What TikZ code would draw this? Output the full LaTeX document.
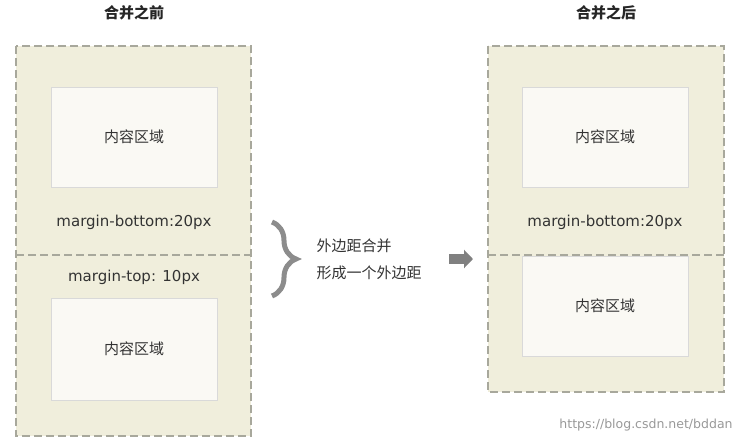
\documentclass[tikz,border=0pt]{standalone}
\usepackage{fontspec}
\setmainfont{DejaVu Sans}
\newfontfamily\cjk{Noto Sans CJK SC}
\usetikzlibrary{decorations.pathreplacing,arrows.meta}
\definecolor{outerfill}{HTML}{F0EEDC}
\definecolor{innerfill}{HTML}{FAF9F4}
\definecolor{dashcol}{HTML}{A8A89C}
\tikzset{
 outerbox/.style={draw=dashcol,fill=outerfill,dash pattern=on 8pt off 4pt,line width=1.3pt},
 innerbox/.style={draw=black!15,fill=innerfill,line width=1pt},
 divider/.style={draw=dashcol,dash pattern=on 8pt off 4pt,line width=1.3pt},
 cn/.style={font=\cjk\fontsize{15}{17}\selectfont,text=black!80},
 mg/.style={font=\fontsize{15}{17}\selectfont,text=black!80},
 title/.style={font=\cjk\bfseries\fontsize{15}{17}\selectfont,text=black!85},
}
\begin{document}
\begin{tikzpicture}[x=1pt,y=-1pt]
\useasboundingbox[fill=white] (0,0) rectangle (745,445);
% left
\node[title] (t1) at (134,13) {合并之前};
\path[outerbox] (16,46) rectangle (251,436);
\draw[divider] (16,255) -- (251,255);
\node[innerbox,minimum width=166pt,minimum height=100pt,cn] (a1) at (134,137) {内容区域};
\node[mg] (mb1) at (134,222) {margin-bottom:20px};
\node[mg] (mt1) at (134,277) {margin-top: 10px};
\node[innerbox,minimum width=166pt,minimum height=102pt,cn] (a2) at (134,349) {内容区域};
% middle
\coordinate (b1) at (272,222);
\coordinate (b2) at (272,296);
\draw[decorate,decoration={brace,amplitude=24pt,aspect=0.5},line width=5pt,draw=black!45] (b1) -- (b2);
\node[cn,anchor=west] (m1) at (313,246) {外边距合并};
\node[cn,anchor=west] (m2) at (313,273) {形成一个外边距};
\coordinate (ar1) at (449,259);
\coordinate (ar2) at (473,259);
\draw[-{Triangle[length=9pt,width=18pt]},line width=10pt,draw=black!50] (ar1) -- (ar2);
% right
\node[title] (t2) at (606,13) {合并之后};
\path[outerbox] (488,46) rectangle (724,392);
\draw[divider] (488,255) -- (724,255);
\node[innerbox,minimum width=166pt,minimum height=100pt,cn] (c1) at (605,137) {内容区域};
\node[mg] (mb2) at (605,222) {margin-bottom:20px};
\node[innerbox,minimum width=166pt,minimum height=100pt,cn] (c2) at (605,306) {内容区域};
\node[font=\fontsize{12.5}{14}\selectfont,text=black!40] (wm) at (646,425) {https://blog.csdn.net/bddan};
\end{tikzpicture}
\end{document}
